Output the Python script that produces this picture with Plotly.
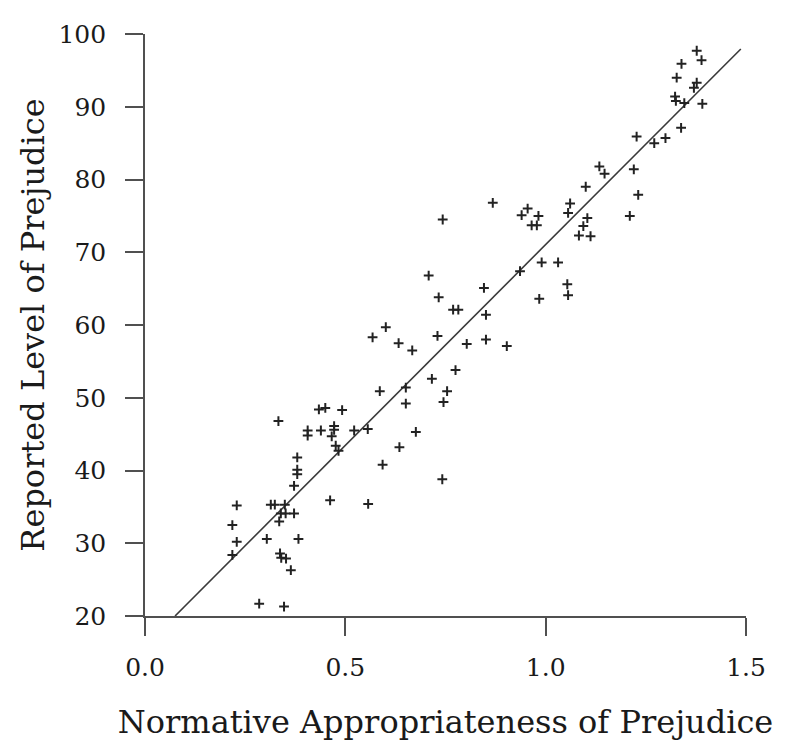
import plotly.graph_objects as go

# Normative appropriateness (x) and reported prejudice (y)
norm_x = [0.333, 0.434, 0.450, 0.492, 0.406, 0.406, 0.439, 0.472, 0.472, 0.466,
          0.476, 0.483, 0.522, 0.380, 0.380, 0.380, 0.372, 0.314, 0.324, 0.349,
          0.351, 0.339, 0.372, 0.335, 0.229, 0.218, 0.229, 0.218, 0.304, 0.383,
          0.337, 0.340, 0.352, 0.364, 0.462, 0.285, 0.347, 0.990, 1.031, 1.054,
          1.056, 0.984, 0.936, 0.708, 0.846, 0.733, 0.769, 0.782, 0.851, 0.601,
          0.568, 0.730, 0.633, 0.667, 0.803, 0.851, 0.903, 0.775, 0.716, 0.586,
          0.651, 0.754, 0.651, 0.745, 0.556, 0.676, 0.635, 0.593, 0.742, 0.557,
          1.134, 1.147, 1.220, 1.231, 1.210, 1.100, 1.061, 1.056, 1.104, 1.094,
          1.083, 1.112, 1.377, 1.389, 1.339, 1.327, 1.377, 1.370, 1.323, 1.325,
          1.346, 1.391, 1.338, 1.227, 1.271, 1.299, 0.868, 0.743, 0.955, 0.940,
          0.982, 0.965, 0.978]
prej_y = [46.8, 48.4, 48.6, 48.3, 45.5, 44.8, 45.5, 46.1, 45.6, 44.7,
          43.4, 42.7, 45.5, 41.8, 40.1, 39.5, 37.9, 35.3, 35.3, 35.3,
          34.1, 34.1, 34.1, 33.0, 35.2, 32.5, 30.2, 28.4, 30.6, 30.6,
          28.6, 28.0, 27.9, 26.3, 35.9, 21.7, 21.3, 68.6, 68.6, 65.6,
          64.1, 63.6, 67.4, 66.8, 65.1, 63.8, 62.1, 62.1, 61.4, 59.7,
          58.3, 58.5, 57.5, 56.5, 57.4, 58.0, 57.1, 53.8, 52.6, 50.9,
          51.4, 50.9, 49.2, 49.4, 45.7, 45.3, 43.2, 40.8, 38.8, 35.4,
          81.8, 80.8, 81.4, 77.9, 75.0, 79.0, 76.7, 75.4, 74.7, 73.6,
          72.3, 72.2, 97.7, 96.4, 95.9, 94.0, 93.3, 92.6, 91.4, 90.8,
          90.5, 90.4, 87.1, 85.9, 85.0, 85.7, 76.8, 74.5, 76.0, 75.1,
          75.0, 73.7, 73.7]

# Fitted line (intercept, slope) and its x extent
fit_intercept = 15.86
fit_slope = 55.2
fit_x = [0.075, 1.487]
fit_y = [fit_intercept + fit_slope * v for v in fit_x]

x_ticks = [0.0, 0.5, 1.0, 1.5]
x_tick_text = ["0.0", "0.5", "1.0", "1.5"]
y_ticks = [20, 30, 40, 50, 60, 70, 80, 90, 100]

FONT = "DejaVu Serif"
INK = "#1a1a1a"
AXIS = "#505050"

fig = go.Figure()
fig.add_trace(go.Scatter(
    x=fit_x, y=fit_y, mode="lines",
    line=dict(color="#3a3a3a", width=1.6),
    hoverinfo="skip", showlegend=False,
))
fig.add_trace(go.Scatter(
    x=norm_x, y=prej_y, mode="markers",
    marker=dict(symbol="cross-thin", size=7,
                line=dict(width=2, color="#222222"), color="#222222"),
    showlegend=False,
))

# The page body adds an 8px margin, so the figure is sized to fit inside it.
fig.update_layout(
    width=779, height=742,
    margin=dict(l=137, r=41, t=17, b=134),
    paper_bgcolor="white", plot_bgcolor="white",
    font=dict(family=FONT, color=INK, size=25),
    xaxis=dict(
        range=[0, 1.5], tickmode="array", tickvals=x_ticks, ticktext=x_tick_text,
        showline=True, linecolor=AXIS, linewidth=1.6,
        ticks="outside", ticklen=18, tickwidth=1.6, tickcolor=AXIS,
        showgrid=False, zeroline=False, ticklabelstandoff=10,
        tickfont=dict(family=FONT, size=25, color=INK),
        title=dict(text="Normative Appropriateness of Prejudice",
                   font=dict(family=FONT, size=32, color=INK), standoff=30),
    ),
    yaxis=dict(
        range=[20, 100], tickmode="array", tickvals=y_ticks,
        showline=True, linecolor=AXIS, linewidth=1.6,
        ticks="outside", ticklen=18, tickwidth=1.6, tickcolor=AXIS,
        showgrid=False, zeroline=False, ticklabelstandoff=14,
        tickfont=dict(family=FONT, size=25, color=INK),
        title=dict(text="Reported Level of Prejudice",
                   font=dict(family=FONT, size=32, color=INK), standoff=4),
    ),
)

fig.write_html("out.html")
